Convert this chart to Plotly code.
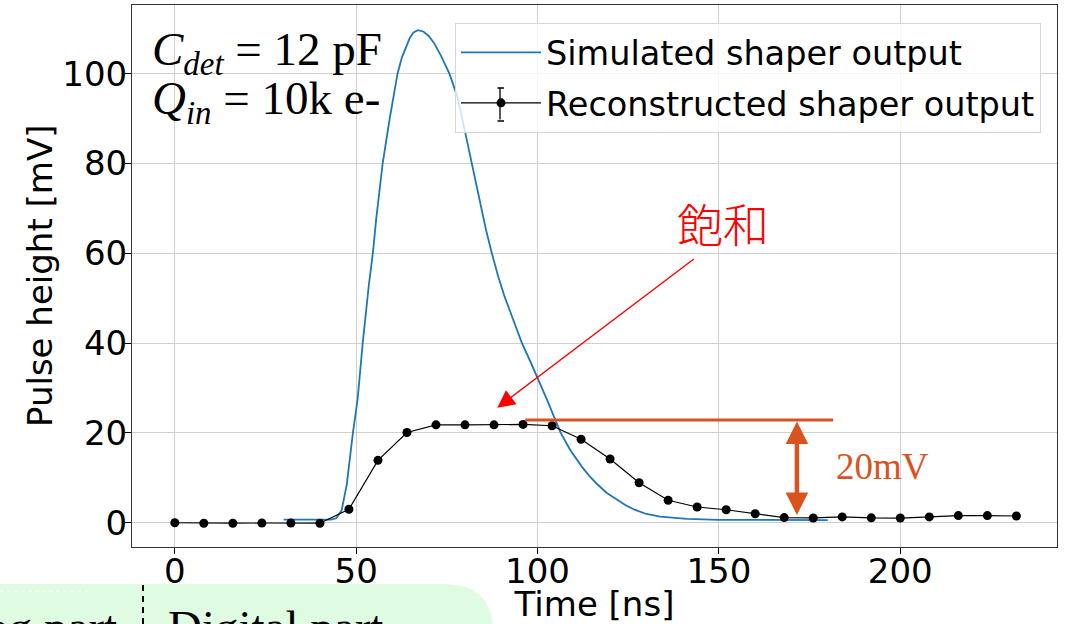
import plotly.graph_objects as go

# ---------------- data ----------------
sim_t = [30, 35, 40, 43, 44.5, 46, 47.4, 48.2, 49.1, 50.4, 51.8, 53.5, 54.6, 55.5, 57.3,
         59.2, 61.4, 62.6, 63.8, 64.8, 65.8, 67.0, 68.5, 70.0, 71.5, 73.5, 75.7, 77.9,
         79.9, 81.9, 83.7, 85.8, 87.4, 89.1, 90.9, 93.3, 95.7, 97.8, 100, 102.6,
         104.9, 106.4, 109.0, 112.2, 114.2, 116.2, 119.0, 121.9, 124.3, 126.9, 130.0,
         133.8, 137.5, 141.2, 150, 165, 180]
sim_v = [0.7, 0.7, 0.7, 0.7, 1.0, 2.8, 8.5, 14, 20, 27.5, 40, 53, 60, 67.5, 80,
         89.8, 100, 103.6, 106.2, 108.0, 109.2, 109.7, 109.4, 108.4, 106.8, 103.8, 100, 94.9,
         87.5, 80, 72.6, 65.2, 60, 55.0, 50.4, 45.0, 40, 36.3, 32.3, 27.4,
         22.9, 20, 16.2, 12.5, 10.5, 8.8, 6.7, 5.1, 3.9, 2.85, 1.95,
         1.36, 1.05, 0.85, 0.65, 0.6, 0.6]

rec_t = [0, 8, 16, 24, 32, 40, 48, 56, 64, 72, 80, 88, 96, 104, 112, 120, 128, 136,
         144, 152, 160, 168, 176, 184, 192, 200, 208, 216, 224, 232]
rec_v = [0.0, -0.1, -0.1, -0.05, -0.05, -0.1, 3.0, 13.9, 20.1, 21.8, 21.8, 21.8, 21.9,
         21.6, 18.6, 14.2, 8.9, 5.0, 3.5, 2.9, 2.0, 1.15, 1.07, 1.3, 1.1, 1.05, 1.3,
         1.6, 1.6, 1.5]

x_ticks = [0, 50, 100, 150, 200]
y_ticks = [0, 20, 40, 60, 80, 100]

# saturation level marker and 20 mV span
sat_level = 22.9
span_low = 1.7
sat_line_t = [96.6, 181.5]
span_t = 171.5

W, H = 1069, 624
L, R, T, B = 132, 12, 5, 77
PW, PH = W - L - R, H - T - B


def px(x):
    return (x - L) / PW


def py(y):
    return (H - B - y) / PH


ORANGE = "#D9531E"

fig = go.Figure()
fig.add_trace(go.Scatter(
    x=sim_t, y=sim_v, mode="lines", name="Simulated shaper output",
    legendgroup="sim",
    line=dict(color="#1f77b4", width=1.8),
))
fig.add_trace(go.Scatter(
    x=rec_t, y=rec_v, mode="lines+markers", name="Reconstructed shaper output",
    legendgroup="rec",
    line=dict(color="black", width=1.2),
    marker=dict(color="black", size=9),
))

shapes = []
# saturation level line
shapes.append(dict(type="line", xref="x", yref="y", x0=sat_line_t[0], x1=sat_line_t[1],
                   y0=sat_level, y1=sat_level, line=dict(color=ORANGE, width=3)))

# bottom slide decoration: green rounded box
x0, x1, y0, y1, r = -10, 493, 584, 660, 48
path = (f"M {px(x0)},{py(y1)} L {px(x0)},{py(y0)} L {px(x1 - r)},{py(y0)} "
        f"Q {px(x1)},{py(y0)} {px(x1)},{py(y0 + r)} L {px(x1)},{py(y1)} Z")
shapes.append(dict(type="path", xref="paper", yref="paper", path=path,
                   fillcolor="#DFFCE3", line=dict(width=0), layer="below"))
shapes.append(dict(type="line", xref="paper", yref="paper", x0=px(143), x1=px(143),
                   y0=py(585), y1=py(630), line=dict(color="black", width=2, dash="6px,5px")))
shapes.append(dict(type="line", xref="paper", yref="paper", x0=px(0), x1=px(88),
                   y0=py(591), y1=py(591), line=dict(color="white", width=1, dash="4px,3px")))

annotations = []
serif = "Liberation Serif"

# error-bar glyph in the legend entry of the reconstructed series (drawn as headless arrows)
ebx, eby0, eby1 = 500, 88, 121
annotations.append(dict(xref="paper", yref="paper", x=px(ebx), y=py(eby0), ax=0,
                        ay=eby1 - eby0, text="", showarrow=True, arrowhead=0,
                        arrowwidth=1.3, arrowcolor="black"))
for yy in (eby0, eby1):
    annotations.append(dict(xref="paper", yref="paper", x=px(ebx + 4), y=py(yy), ax=-8,
                            ay=0, text="", showarrow=True, arrowhead=0,
                            arrowwidth=1.3, arrowcolor="black"))

# y-axis title
annotations.append(dict(xref="paper", yref="paper", x=px(40), y=py(276), showarrow=False,
                        xanchor="center", yanchor="middle",
                        textangle=-90, text="Pulse height [mV]",
                        font=dict(family="DejaVu Sans", size=34, color="black")))

annotations.append(dict(xref="paper", yref="paper", x=px(150), y=py(52), xanchor="left",
                        yanchor="middle", showarrow=False,
                        text="<i>C</i><sub><i>det</i></sub> = 12 pF",
                        font=dict(family=serif, size=47, color="black")))
annotations.append(dict(xref="paper", yref="paper", x=px(150), y=py(101), xanchor="left",
                        yanchor="middle", showarrow=False,
                        text="<i>Q</i><sub><i>in</i></sub> = 10k e-",
                        font=dict(family=serif, size=47, color="black")))
# 飽和 label with arrow
annotations.append(dict(xref="paper", yref="paper", x=px(723), y=py(222), showarrow=False,
                        text="飽和", font=dict(family="Noto Sans CJK JP", size=46,
                                             color="#FF0000", weight=300)))
annotations.append(dict(xref="x", yref="y", axref="x", ayref="y",
                        x=88.9, y=25.6, ax=143.5, ay=59.0, text="", showarrow=True,
                        arrowhead=2, arrowsize=2.5, arrowwidth=1.4, arrowcolor="#FF0000"))
# 20 mV double arrow
annotations.append(dict(xref="x", yref="y", axref="x", ayref="y",
                        x=span_t, y=span_low, ax=span_t, ay=sat_level, text="", showarrow=True,
                        arrowhead=2, startarrowhead=2, arrowside="end+start",
                        arrowsize=1.0, startarrowsize=1.0, arrowwidth=4.5, arrowcolor=ORANGE))
annotations.append(dict(xref="paper", yref="paper", x=px(834), y=py(466), xanchor="left",
                        yanchor="middle", showarrow=False, text="20mV",
                        font=dict(family=serif, size=37, color=ORANGE)))
# bottom slide text
annotations.append(dict(xref="paper", yref="paper", x=px(119), y=py(627), xanchor="right",
                        yanchor="middle", showarrow=False, text="Analog part",
                        font=dict(family=serif, size=47, color="black")))
annotations.append(dict(xref="paper", yref="paper", x=px(166), y=py(627), xanchor="left",
                        yanchor="middle", showarrow=False, text="Digital part",
                        font=dict(family=serif, size=47, color="black")))

fig.update_layout(
    width=W, height=H,
    margin=dict(l=L, r=R, t=T, b=B, pad=0, autoexpand=False),
    paper_bgcolor="white", plot_bgcolor="white",
    font=dict(family="DejaVu Sans", size=34, color="black"),
    showlegend=True,
    legend=dict(x=px(1041), y=py(23), xanchor="right", yanchor="top",
                bgcolor="rgba(255,255,255,0.8)", bordercolor="#d6d6d6", borderwidth=1,
                font=dict(family="DejaVu Sans", size=33.5, color="black"),
                itemwidth=80, tracegroupgap=4, traceorder="grouped"),
    shapes=shapes,
    annotations=annotations,
)
fig.update_xaxes(range=[-11.8, 243.2], tickmode="array", tickvals=x_ticks,
                 ticks="outside", ticklen=6, tickcolor="black", ticklabelstandoff=-12,
                 showgrid=True, gridcolor="#cfcfcf", gridwidth=1,
                 showline=True, linecolor="#333333", linewidth=1, mirror=True,
                 zeroline=False, automargin=False,
                 title=dict(text="Time [ns]", standoff=8, font=dict(size=34)))
fig.update_yaxes(range=[-5.4, 115.3], tickmode="array", tickvals=y_ticks,
                 ticks="outside", ticklen=6, tickcolor="black", ticklabelstandoff=-9,
                 showgrid=True, gridcolor="#cfcfcf", gridwidth=1,
                 showline=True, linecolor="#333333", linewidth=1, mirror=True,
                 zeroline=False, automargin=False)

fig.write_html("out.html", config={"displayModeBar": False},
               post_script="document.body.style.margin='0px';")
